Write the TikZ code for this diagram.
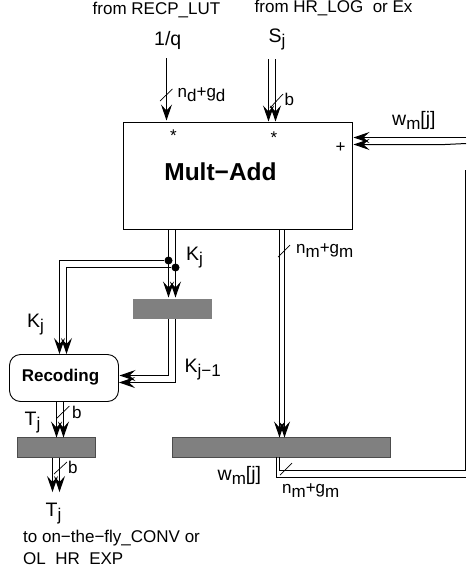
\documentclass[tikz,border=0pt]{standalone}
\usepackage{fontspec}
\setmainfont{Liberation Sans}
\usetikzlibrary{arrows.meta}
\tikzset{
  x=1pt,y=-1pt,
  wire/.style={line width=1pt,black},
  arr/.style={wire,-{Stealth[length=16pt,width=11pt,inset=6pt]}},
  slashmark/.style={line width=0.7pt,black},
  lab/.style={inner sep=0pt,font=\fontsize{17}{19}\selectfont,anchor=base west},
  biglab/.style={inner sep=0pt,font=\fontsize{19.5}{21}\selectfont,anchor=base west},
  midlab/.style={inner sep=0pt,font=\fontsize{19.5}{21}\selectfont,anchor=base west},
  regbar/.style={draw=black!70,line width=0.8pt,fill=black!50,inner sep=0pt},
  dotn/.style={circle,fill=black,inner sep=0pt,minimum size=8pt},
}
\newcommand{\rsub}[1]{\raisebox{-4.5pt}{\fontsize{17}{19}\selectfont #1}}
\begin{document}
\begin{tikzpicture}
\useasboundingbox (0,0) rectangle (466,573);
\clip (0,0) rectangle (466,573);
% boxes
\node[draw,line width=0.9pt,minimum width=229pt,minimum height=107pt,inner sep=0pt] (ma) at (238,175.5) {};
\node[inner sep=0pt,font=\fontsize{24.5}{26}\bfseries\selectfont] (matxt) at (220.5,172) {Mult{\char"2212}Add};
\node[regbar,draw=none,minimum width=79pt,minimum height=20pt] (reg1) at (172.5,309) {};
\node[draw,line width=0.9pt,rounded corners=11pt,minimum width=109pt,minimum height=47pt,inner sep=0pt] (rec) at (64,378) {};
\node[inner sep=0pt,font=\fontsize{17}{19}\bfseries\selectfont] (rectxt) at (60.5,377) {Recoding};
\node[regbar,minimum width=78pt,minimum height=20pt] (reg2) at (56.5,447.5) {};
\node[regbar,minimum width=218pt,minimum height=20pt] (reg3) at (281,447.5) {};
% named anchors for wires
\coordinate (q0) at (166.5,58);
\coordinate (qe) at (166.5,120.5);
\coordinate (s1a) at (268.5,59);
\coordinate (s1b) at (268.5,121.5);
\coordinate (s2a) at (275.5,59);
\coordinate (s2b) at (275.5,121.5);
% inputs
\draw[arr] (q0) -- (qe);
\draw[arr] (s1a) -- (s1b);
\draw[arr] (s2a) -- (s2b);
% wm feedback
\coordinate (wa) at (466,137.5);
\coordinate (wb) at (466,143.5);
\coordinate (wbb) at (445,144.5);
\coordinate (wbe) at (353.5,144.5);
\coordinate (wae) at (353.5,137.5);
\draw[arr] (wa) -- (wae);
\draw[arr] (wb) -- (wbb) -- (wbe);
\draw[wire] (279.5,457) -- (279.5,470.5) -- (465.5,470.5) -- (465.5,170);
\draw[wire] (276.5,457) -- (276.5,477.5) -- (466,477.5);
% main output
\draw[arr] (279.5,229) -- (279.5,437.5);
\draw[arr] (284.5,229) -- (284.5,437.5);
% Kj
\node[dotn] (d1) at (168.5,260.5) {};
\node[dotn] (d2) at (175.5,267.5) {};
\draw[arr] (168.5,229) -- (168.5,297.5);
\draw[arr] (175.5,229) -- (175.5,297.5);
\draw[arr] (d1) -- (59.5,260.5) -- (59.5,354);
\draw[arr] (d2) -- (66.5,267.5) -- (66.5,354);
\draw[arr] (168.5,319) -- (168.5,375.5) -- (119.5,375.5);
\draw[arr] (175.5,319) -- (175.5,382.5) -- (119,382.5);
% Tj
\draw[arr] (56.5,402) -- (56.5,437.5);
\draw[arr] (63.5,402) -- (63.5,437.5);
\draw[arr] (52.5,457.5) -- (52.5,492);
\draw[arr] (59.5,457.5) -- (59.5,492);
% slashes
\draw[slashmark] (160,101) -- (172.5,89);
\draw[slashmark] (270,108) -- (283,94);
\draw[slashmark] (278,257) -- (290,245);
\draw[slashmark] (57,418) -- (69.5,406);
\draw[slashmark] (54,474) -- (67,462);
\draw[slashmark] (280,475) -- (292,463);
% texts
\node[lab] (t1) at (92.5,14) {from RECP\_LUT};
\node[lab] (t2) at (254.5,12) {from HR\_LOG\ \ or Ex};
\node[biglab] (t3) at (154,45) {1/q};
\node[biglab] (t4) at (268.5,42) {S\rsub{j}};
\node[lab] (t5) at (177.5,97) {n\rsub{d}+g\rsub{d}};
\node[lab] (t6) at (284.5,105) {b};
\node[midlab] (t7) at (392,125) {w\rsub{m}[j]};
\node[lab] (t8) at (170,141) {*};
\node[lab] (t9) at (270.5,143) {*};
\node[lab] (t10) at (335.5,152) {+};
\node[biglab] (t11) at (186,260) {K\rsub{j}};
\node[biglab] (t12) at (27,327) {K\rsub{j}};
\node[biglab] (t13) at (184.5,372) {K\rsub{j{\char"2212}1}};
\node[biglab] (t14) at (24.5,425) {T\rsub{j}};
\node[lab] (t15) at (72,418) {b};
\node[lab] (t16) at (68,473) {b};
\node[biglab] (t17) at (45.5,516) {T\rsub{j}};
\node[lab] (t18) at (23,542) {to on{\char"2212}the{\char"2212}fly\_CONV or};
\node[lab] (t19) at (23,564) {OL\ \ HR\ \ EXP};
\node[midlab] (t20) at (217.5,480) {w\rsub{m}[j]};
\node[lab] (t21) at (282,493) {n\rsub{m}+g\rsub{m}};
\node[lab] (t22) at (296,253) {n\rsub{m}+g\rsub{m}};
\end{tikzpicture}
\end{document}
